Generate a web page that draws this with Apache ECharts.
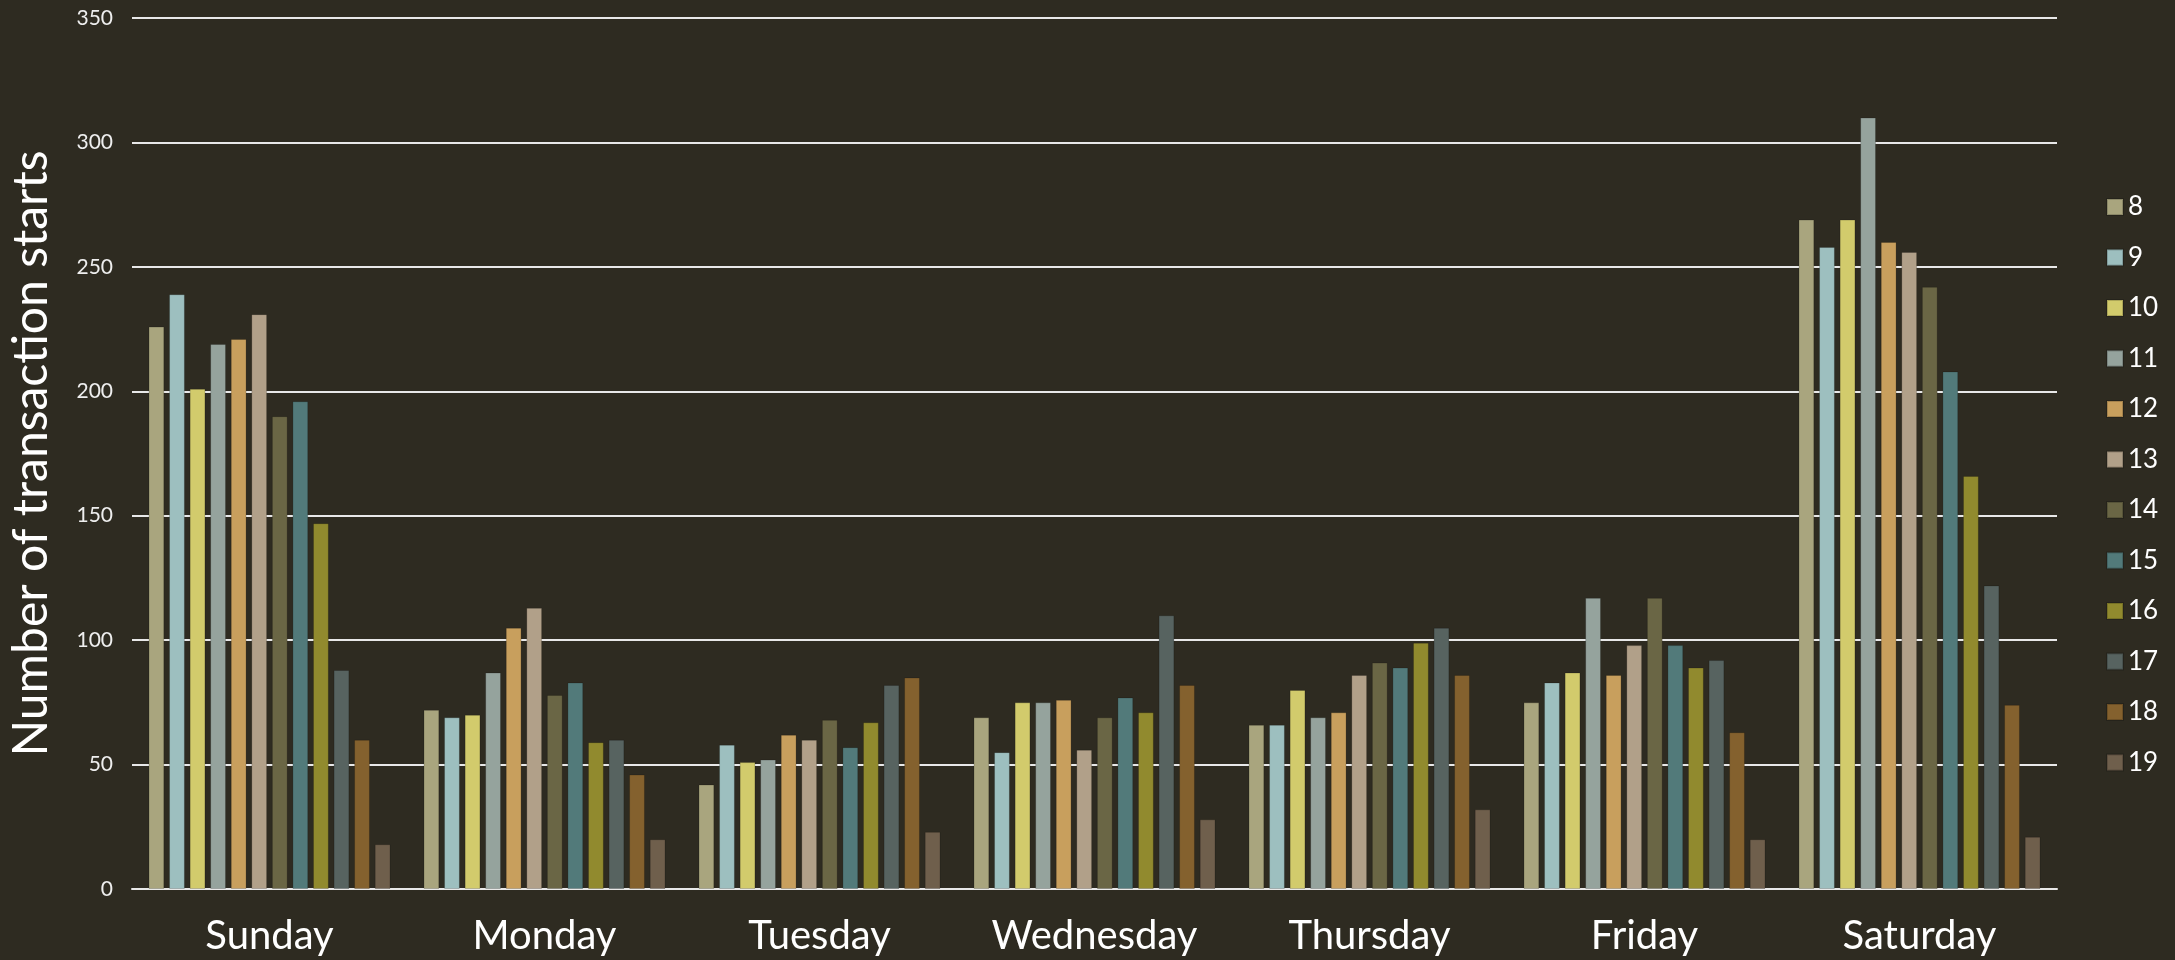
<!DOCTYPE html>
<html>
<head>
<meta charset="utf-8">
<script src="https://cdn.jsdelivr.net/npm/echarts@6/dist/echarts.min.js"></script>
<style>
  html, body { margin: 0; padding: 0; background: #2e2b21; }
  #main { width: 2175px; height: 960px; }
</style>
</head>
<body>
<div id="main"></div>
<script>
// days on the x axis
var days = ["Sunday", "Monday", "Tuesday", "Wednesday", "Thursday", "Friday", "Saturday"];
// hour of day = one series each
var hours = ["8", "9", "10", "11", "12", "13", "14", "15", "16", "17", "18", "19"];
var hourColors = ["#a9a57e", "#9dbfbf", "#d2cb6c", "#95a39d", "#c89f5d", "#b1a089",
                  "#6a6645", "#527a7a", "#918a2e", "#576360", "#84612e", "#6f5f4c"];
// counts per hour, one value per day (Sun..Sat)
var h8  = [226, 72, 42, 69, 66, 75, 269];
var h9  = [239, 69, 58, 55, 66, 83, 258];
var h10 = [201, 70, 51, 75, 80, 87, 269];
var h11 = [219, 87, 52, 75, 69, 117, 310];
var h12 = [221, 105, 62, 76, 71, 86, 260];
var h13 = [231, 113, 60, 56, 86, 98, 256];
var h14 = [190, 78, 68, 69, 91, 117, 242];
var h15 = [196, 83, 57, 77, 89, 98, 208];
var h16 = [147, 59, 67, 71, 99, 89, 166];
var h17 = [88, 60, 82, 110, 105, 92, 122];
var h18 = [60, 46, 85, 82, 86, 63, 74];
var h19 = [18, 20, 23, 28, 32, 20, 21];
var yTicks = [0, 50, 100, 150, 200, 250, 300, 350];

var allData = [h8, h9, h10, h11, h12, h13, h14, h15, h16, h17, h18, h19];

window.onload = function () {
  var myChart = echarts.init(document.getElementById('main'));

  var series = [];
  for (var i = 0; i < hours.length; i++) {
    series.push({
      name: hours[i],
      type: 'bar',
      data: allData[i],
      barGap: '30%',
      barCategoryGap: '12%',
      itemStyle: { color: hourColors[i], borderColor: 'rgba(0,0,0,0.18)', borderWidth: 1 }
    });
  }

  var option = {
    backgroundColor: '#2e2b21',
    animation: false,
    textStyle: { fontFamily: 'Lato' },
    grid: { left: 130, right: 118, top: 18, bottom: 71 },
    legend: {
      data: hours,
      orient: 'vertical',
      left: 2101,
      top: 189,
      icon: 'rect',
      itemWidth: 16,
      itemHeight: 16,
      itemGap: 24.5,
      textStyle: { color: '#ffffff', fontSize: 26, fontFamily: 'Lato' }
    },
    xAxis: {
      type: 'category',
      data: days,
      axisTick: { show: false },
      axisLine: { lineStyle: { color: '#e8e8e8', width: 2 } },
      axisLabel: { color: '#ffffff', fontSize: 40, margin: 27, fontFamily: 'Lato' }
    },
    yAxis: {
      type: 'value',
      min: yTicks[0],
      max: yTicks[yTicks.length - 1],
      interval: 50,
      name: 'Number of transaction starts',
      nameLocation: 'middle',
      nameGap: 76,
      nameTextStyle: { color: '#ffffff', fontSize: 48, fontFamily: 'Lato' },
      axisLine: { show: false },
      axisTick: { show: false },
      axisLabel: { color: '#eeeeee', fontSize: 21, margin: 19 },
      splitLine: { lineStyle: { color: '#e8e8e8', width: 2 } }
    },
    series: series
  };

  myChart.setOption(option);
};
</script>
</body>
</html>
